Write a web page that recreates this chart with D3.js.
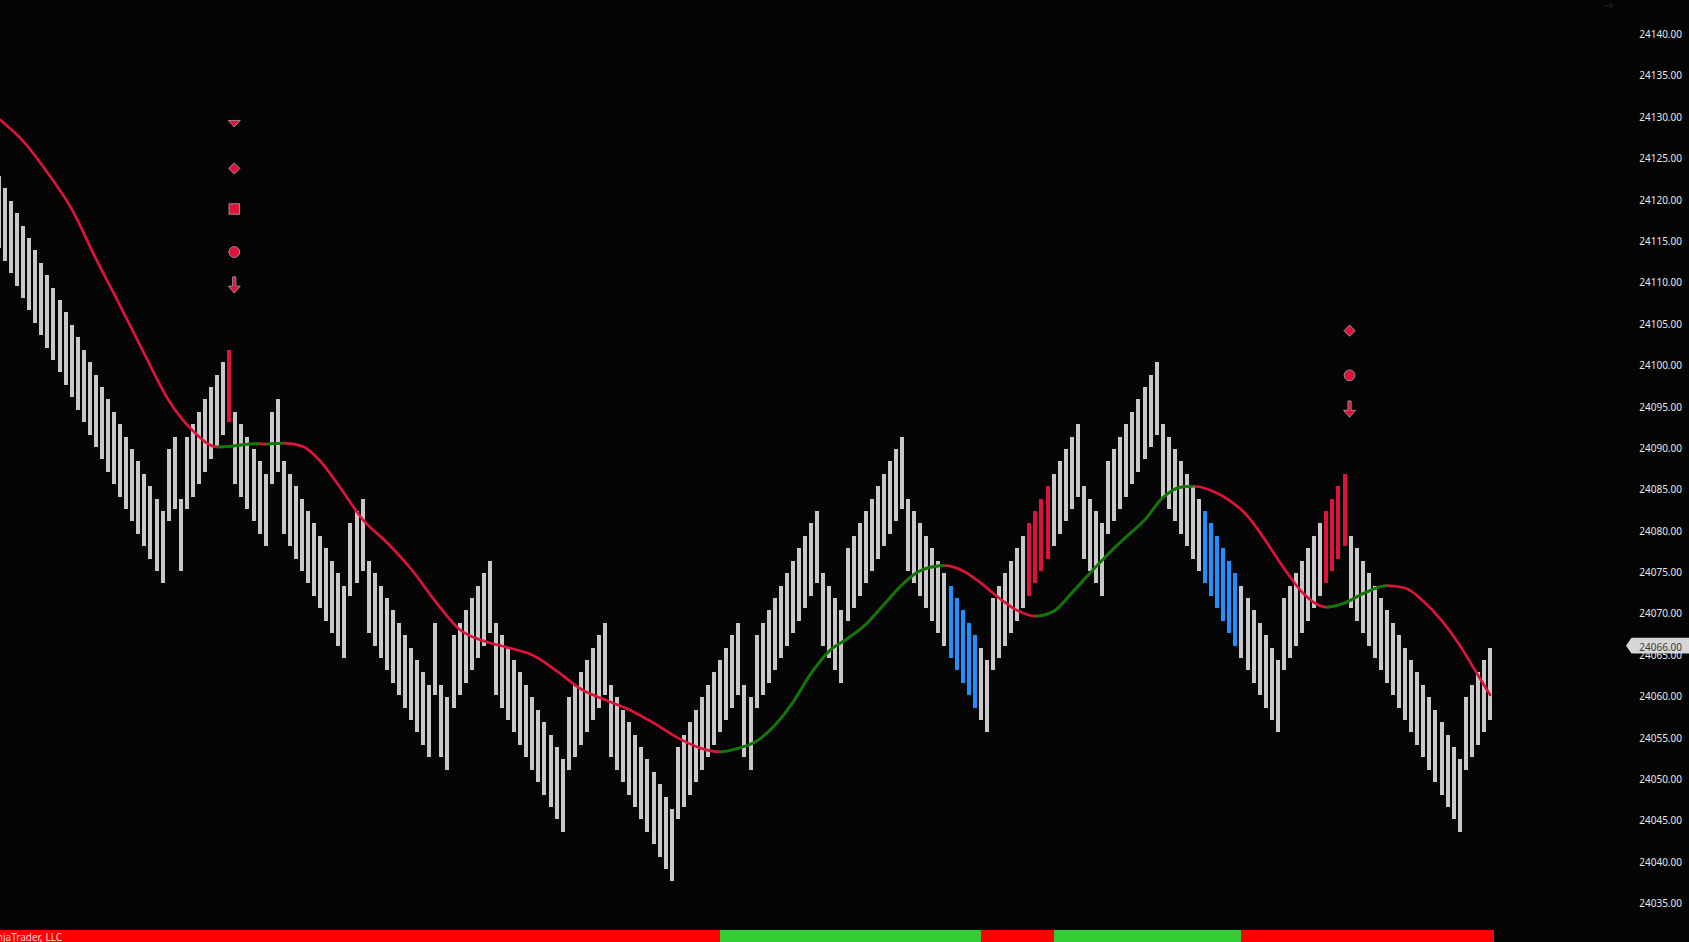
<!DOCTYPE html>
<html>
<head>
<meta charset="utf-8">
<script src="https://cdn.jsdelivr.net/npm/d3@7"></script>
<style>
  html, body { margin: 0; padding: 0; background: #050505; overflow: hidden; }
</style>
</head>
<body>
<div id="chart"></div>
<script>
// Bar tops (price), one per bar
const barTops = [
  24123.0, 24121.5, 24120.0, 24118.5, 24117.0, 24115.5, 24114.0, 24112.5, 24111.0, 24109.5,
  24108.0, 24106.5, 24105.0, 24103.5, 24102.0, 24100.5, 24099.0, 24097.5, 24096.0, 24094.5,
  24093.0, 24091.5, 24090.0, 24088.5, 24087.0, 24085.5, 24084.0, 24082.5, 24090.0, 24091.5,
  24084.0, 24091.5, 24093.0, 24094.5, 24096.0, 24097.5, 24099.0, 24100.5, 24102.0, 24094.5,
  24093.0, 24091.5, 24090.0, 24088.5, 24087.0, 24094.5, 24096.0, 24088.5, 24087.0, 24085.5,
  24084.0, 24082.5, 24081.0, 24079.5, 24078.0, 24076.5, 24075.0, 24073.5, 24081.0, 24082.5,
  24084.0, 24076.5, 24075.0, 24073.5, 24072.0, 24070.5, 24069.0, 24067.5, 24066.0, 24064.5,
  24063.0, 24061.5, 24069.0, 24061.5, 24060.0, 24067.5, 24069.0, 24070.5, 24072.0, 24073.5,
  24075.0, 24076.5, 24069.0, 24067.5, 24066.0, 24064.5, 24063.0, 24061.5, 24060.0, 24058.5,
  24057.0, 24055.5, 24054.0, 24052.5, 24060.0, 24061.5, 24063.0, 24064.5, 24066.0, 24067.5,
  24069.0, 24061.5, 24060.0, 24058.5, 24057.0, 24055.5, 24054.0, 24052.5, 24051.0, 24049.5,
  24048.0, 24046.5, 24054.0, 24055.5, 24057.0, 24058.5, 24060.0, 24061.5, 24063.0, 24064.5,
  24066.0, 24067.5, 24069.0, 24061.5, 24060.0, 24067.5, 24069.0, 24070.5, 24072.0, 24073.5,
  24075.0, 24076.5, 24078.0, 24079.5, 24081.0, 24082.5, 24075.0, 24073.5, 24072.0, 24070.5,
  24078.0, 24079.5, 24081.0, 24082.5, 24084.0, 24085.5, 24087.0, 24088.5, 24090.0, 24091.5,
  24084.0, 24082.5, 24081.0, 24079.5, 24078.0, 24076.5, 24075.0, 24073.5, 24072.0, 24070.5,
  24069.0, 24067.5, 24066.0, 24064.5, 24072.0, 24073.5, 24075.0, 24076.5, 24078.0, 24079.5,
  24081.0, 24082.5, 24084.0, 24085.5, 24087.0, 24088.5, 24090.0, 24091.5, 24093.0, 24085.5,
  24084.0, 24082.5, 24081.0, 24088.5, 24090.0, 24091.5, 24093.0, 24094.5, 24096.0, 24097.5,
  24099.0, 24100.5, 24093.0, 24091.5, 24090.0, 24088.5, 24087.0, 24085.5, 24084.0, 24082.5,
  24081.0, 24079.5, 24078.0, 24076.5, 24075.0, 24073.5, 24072.0, 24070.5, 24069.0, 24067.5,
  24066.0, 24064.5, 24072.0, 24073.5, 24075.0, 24076.5, 24078.0, 24079.5, 24081.0, 24082.5,
  24084.0, 24085.5, 24087.0, 24079.5, 24078.0, 24076.5, 24075.0, 24073.5, 24072.0, 24070.5,
  24069.0, 24067.5, 24066.0, 24064.5, 24063.0, 24061.5, 24060.0, 24058.5, 24057.0, 24055.5,
  24054.0, 24052.5, 24060.0, 24061.5, 24063.0, 24064.5, 24066.0
];
const brickSize = 8.75; // every bar spans the same price range

// Highlighted bars
const redBars = [38, 170, 171, 172, 173, 219, 220, 221, 222];
const blueBars = [157, 158, 159, 160, 161, 199, 200, 201, 202, 203, 204];

// Moving average, read at these bar indices
const maIdx = [0, 4, 8, 12, 16, 20, 24, 28, 32, 36, 43, 44, 47, 50, 53, 56, 60, 64, 68, 72,
  76, 80, 84, 88, 92, 96, 100, 104, 108, 112, 116, 119, 122, 125, 128, 131, 134, 137, 140, 143,
  146, 149, 152, 156, 159, 162, 165, 168, 171, 174, 177, 180, 183, 186, 189, 192, 195, 197, 200, 203,
  206, 209, 212, 215, 219, 222, 225, 229, 232, 235, 238, 241, 244, 246];
const maVal = [24129.9, 24127.2, 24123.4, 24119.0, 24113.0, 24107.3, 24101.5, 24095.9, 24092.2, 24090.25,
  24090.65, 24090.6, 24090.7, 24090.35, 24088.55, 24085.65, 24081.5, 24078.7, 24075.5, 24071.6,
  24068.2, 24066.8, 24066.0, 24065.1, 24063.2, 24061.0, 24059.7, 24058.5, 24056.9, 24055.1,
  24053.8, 24053.4, 24053.85, 24054.7, 24056.6, 24059.4, 24062.9, 24065.6, 24067.1, 24068.8,
  24071.2, 24073.6, 24075.3, 24075.9, 24075.3, 24073.8, 24072.0, 24070.5, 24069.8, 24070.4,
  24072.6, 24075.0, 24077.3, 24079.4, 24081.4, 24084.1, 24085.4, 24085.5, 24085.0, 24083.8,
  24081.9, 24078.9, 24075.6, 24072.7, 24070.9, 24071.4, 24072.5, 24073.5, 24073.2, 24071.6,
  24069.3, 24066.3, 24062.7, 24060.3];

// Bottom trend strip: first bar of each segment and its state
const stripStart = [0, 119, 162, 174, 205];
const stripTrend = ["down", "up", "down", "up", "down"];

// Price axis
const priceTicks = [24035, 24040, 24045, 24050, 24055, 24060, 24065, 24070, 24075, 24080,
  24085, 24090, 24095, 24100, 24105, 24110, 24115, 24120, 24125, 24130, 24135, 24140];
const lastPrice = 24066;

// Signal markers above bars
const markerBars = [38, 38, 38, 38, 38, 222, 222, 222];
const markerShapes = ["triangle", "diamond", "square", "circle", "arrow", "diamond", "circle", "arrow"];
const markerPrices = [24129.3, 24123.9, 24119.0, 24113.8, 24109.8, 24104.3, 24098.9, 24094.8];

const W = 1689, H = 942;
const lastBar = barTops.length - 1;

const svg = d3.select("#chart")
  .append("svg")
  .attr("width", W)
  .attr("height", H)
  .style("display", "block")
  .style("background", "#050505");

const x = d3.scaleLinear().domain([0, lastBar]).range([-1.07, 1490]);
const y = d3.scaleLinear().domain([24035, 24140]).range([904.2, 35.2]);

const barColor = i => redBars.includes(i) ? "#dc143c" : blueBars.includes(i) ? "#1e90ff" : "#c8c8c8";

// Bars
svg.append("g")
  .selectAll("rect")
  .data(barTops)
  .enter()
  .append("rect")
  .attr("x", (d, i) => Math.round(x(i) - 2))
  .attr("width", 4)
  .attr("y", d => Math.round(y(d)))
  .attr("height", d => Math.round(y(d - brickSize)) - Math.round(y(d)))
  .attr("fill", (d, i) => barColor(i))
  .attr("shape-rendering", "crispEdges");

// Moving average: red everywhere, green where rising
const maPts = maIdx.map((d, k) => [x(d), y(maVal[k])]);
const line = d3.line().curve(d3.curveMonotoneX);

const defs = svg.append("defs");
const clip = defs.append("clipPath").attr("id", "rising");
for (let k = 0; k < maIdx.length - 1; k++) {
  if (maVal[k + 1] > maVal[k]) {
    clip.append("rect")
      .attr("x", x(maIdx[k]))
      .attr("width", x(maIdx[k + 1]) - x(maIdx[k]))
      .attr("y", 0)
      .attr("height", H);
  }
}

svg.append("path")
  .attr("d", line(maPts))
  .attr("fill", "none")
  .attr("stroke", "#dc143c")
  .attr("stroke-width", 2.7)
  .attr("stroke-linecap", "round");

svg.append("path")
  .attr("d", line(maPts))
  .attr("fill", "none")
  .attr("stroke", "#008000")
  .attr("stroke-width", 2.7)
  .attr("clip-path", "url(#rising)");

// Markers
const markerPath = {
  triangle: "M-6,-3.3L6,-3.3L0,3.3Z",
  arrow: "M-1.6,-8.3L1.6,-8.3L1.6,1L6,1L0,8L-6,1L-1.6,1Z"
};
const mg = svg.append("g");
markerShapes.forEach((s, k) => {
  const cx = x(markerBars[k]) + 5;
  const cy = y(markerPrices[k]);
  let p;
  if (s === "diamond") p = d3.symbol(d3.symbolSquare, 62)();
  else if (s === "square") p = d3.symbol(d3.symbolSquare, 112)();
  else if (s === "circle") p = d3.symbol(d3.symbolCircle, 92)();
  else p = markerPath[s];
  mg.append("path")
    .attr("d", p)
    .attr("transform", "translate(" + cx + "," + cy + ")" + (s === "diamond" ? " rotate(45)" : ""))
    .attr("fill", "#dc143c")
    .attr("stroke", "#a8a8a8")
    .attr("stroke-width", 0.8);
});

// Bottom strip
const stripColor = { up: "#32cd32", down: "#ff0000" };
stripStart.forEach((s, k) => {
  const x0 = Math.max(0, x(s));
  const x1 = k < stripStart.length - 1 ? x(stripStart[k + 1]) : x(lastBar) + 4;
  svg.append("rect")
    .attr("x", x0)
    .attr("width", x1 - x0)
    .attr("y", 930)
    .attr("height", 12)
    .attr("fill", stripColor[stripTrend[k]])
    .attr("shape-rendering", "crispEdges");
});

svg.append("text")
  .attr("x", 62)
  .attr("y", 940.5)
  .attr("text-anchor", "end")
  .style("font-family", "'Noto Sans', sans-serif")
  .style("font-size", "10px")
  .style("fill", "#ffd6d6")
  .text("© NinjaTrader, LLC");

// faint scroll arrow, top right
svg.append("text")
  .attr("x", 1608)
  .attr("y", 10)
  .attr("text-anchor", "middle")
  .style("font-family", "'DejaVu Sans', sans-serif")
  .style("font-size", "14px")
  .style("fill", "#1e1e1e")
  .text("→");

// Price axis labels
const axisFont = "'Noto Sans', sans-serif";
svg.append("g")
  .selectAll("text")
  .data(priceTicks)
  .enter()
  .append("text")
  .attr("x", 1682)
  .attr("y", d => y(d) + 2.9)
  .attr("text-anchor", "end")
  .style("font-family", axisFont)
  .style("font-size", "10px")
  .style("fill", "#e6e6e6")
  .text(d => d.toFixed(2));

// Last price tag
const ly = y(lastPrice) - 2;
svg.append("path")
  .attr("d", "M1626," + ly + "L1631.5," + (ly - 7.8) + "L1689," + (ly - 7.8) + "L1689," + (ly + 7.8) + "L1631.5," + (ly + 7.8) + "Z")
  .attr("fill", "#d6d6d6");
svg.append("text")
  .attr("x", 1682)
  .attr("y", y(lastPrice) + 2.9)
  .attr("text-anchor", "end")
  .style("font-family", axisFont)
  .style("font-size", "10px")
  .style("fill", "#3a3a3a")
  .text(lastPrice.toFixed(2));
</script>
</body>
</html>
